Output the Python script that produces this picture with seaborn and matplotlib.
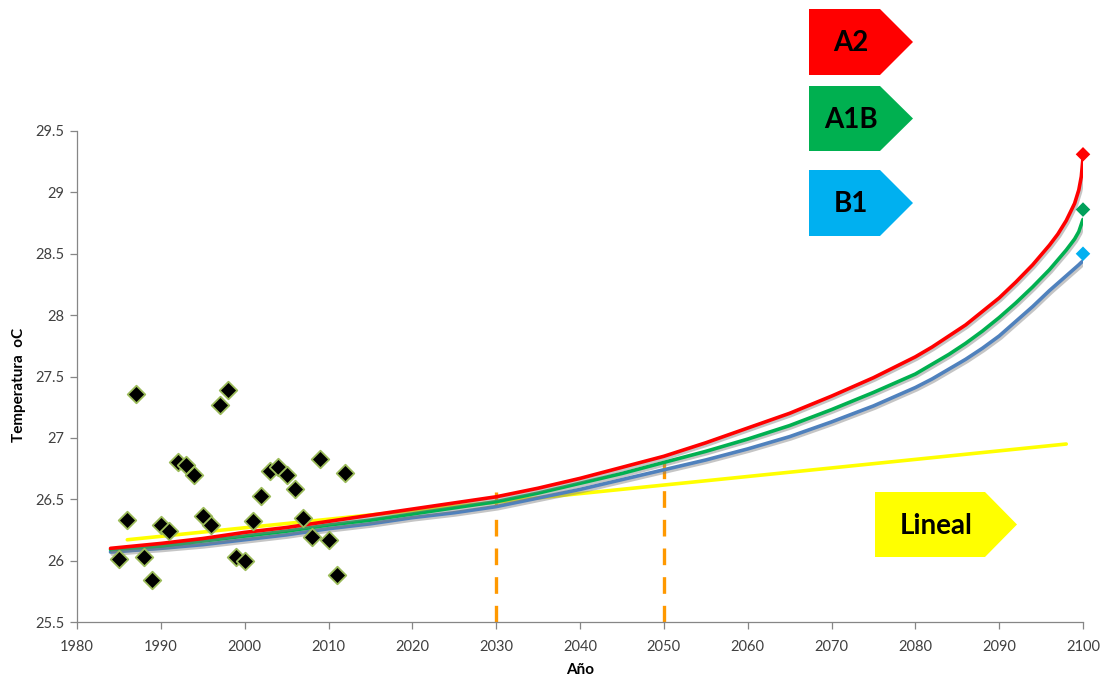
import numpy as np
import pandas as pd
import matplotlib
matplotlib.use("Agg")
import matplotlib.pyplot as plt
import matplotlib.patheffects as pe
from matplotlib.patches import Polygon
import seaborn as sns

# Observed annual mean temperature
obs_years = list(range(1985, 2013))
obs_temp = [26.01, 26.33, 27.36, 26.03, 25.84, 26.29, 26.24, 26.80, 26.78, 26.70,
            26.36, 26.29, 27.27, 27.39, 26.03, 26.00, 26.32, 26.53, 26.73, 26.76,
            26.70, 26.58, 26.35, 26.19, 26.83, 26.17, 25.88, 26.71]

# Scenario projections
proj_years = [1984, 1990, 1995, 2000, 2005, 2010, 2015, 2020, 2025, 2030,
              2035, 2040, 2045, 2050, 2055, 2060, 2065, 2070, 2075, 2080,
              2082, 2084, 2086, 2088, 2090, 2092, 2094, 2096, 2097, 2098,
              2099, 2099.5, 2099.8, 2100]
a2_temp = [26.10, 26.14, 26.18, 26.23, 26.27, 26.32, 26.37, 26.42, 26.47, 26.52,
           26.59, 26.67, 26.76, 26.85, 26.96, 27.08, 27.20, 27.34, 27.49, 27.66,
           27.74, 27.83, 27.92, 28.03, 28.14, 28.27, 28.41, 28.57, 28.66, 28.77,
           28.91, 29.02, 29.13, 29.28]
a1b_temp = [26.09, 26.12, 26.16, 26.20, 26.24, 26.29, 26.33, 26.38, 26.43, 26.48,
            26.55, 26.63, 26.71, 26.80, 26.89, 26.99, 27.10, 27.23, 27.37, 27.52,
            27.60, 27.68, 27.77, 27.87, 27.98, 28.10, 28.23, 28.37, 28.45, 28.53,
            28.62, 28.68, 28.74, 28.78]
b1_temp = [26.07, 26.10, 26.13, 26.17, 26.21, 26.26, 26.30, 26.35, 26.39, 26.44,
           26.51, 26.58, 26.66, 26.74, 26.82, 26.91, 27.01, 27.13, 27.26, 27.41,
           27.48, 27.56, 27.64, 27.73, 27.83, 27.95, 28.07, 28.20, 28.26, 28.32,
           28.38, 28.41, 28.43, 28.44]

# 2100 end values
end_year = [2100, 2100, 2100]
end_temp = [29.31, 28.86, 28.50]
end_scenario = ["A2", "A1B", "B1"]

# Linear trend
lin_years = [1986, 2098]
lin_temp = [26.17, 26.95]

# Reference years
ref_years = [2030, 2050]
ref_top = [26.56, 26.88]

x_ticks = list(range(1980, 2101, 10))
y_ticks = [25.5, 26, 26.5, 27, 27.5, 28, 28.5, 29, 29.5]

W, H = 1106, 679
sns.set_theme(style="white")
plt.rcParams["font.family"] = ["Lato", "DejaVu Sans"]

fig = plt.figure(figsize=(W / 100, H / 100), dpi=100)
ax = fig.add_axes([77 / W, 1 - 622 / H, (1083 - 77) / W, (622 - 131) / H])

proj = pd.DataFrame({
    "year": proj_years * 3,
    "temp": a2_temp + a1b_temp + b1_temp,
    "scenario": ["A2"] * len(proj_years) + ["A1B"] * len(proj_years) + ["B1"] * len(proj_years),
})
line_colors = {"A2": "#FF0000", "A1B": "#00B050", "B1": "#4F81BD"}
marker_colors = {"A2": "#FF0000", "A1B": "#00A05A", "B1": "#00B0F0"}

# Reference-year markers
for yr, top in zip(ref_years, ref_top):
    ax.plot([yr, yr], [25.5, top], color="#FF9900", lw=2.4,
            dashes=(5, 3.6), zorder=2, solid_capstyle="butt")

# Linear trend
sns.lineplot(x=lin_years, y=lin_temp, ax=ax, color="#FFFF00", lw=2.6, zorder=3)

# Scenario curves with soft shadow
for sc in ["B1", "A1B", "A2"]:
    sub = proj[proj["scenario"] == sc]
    sns.lineplot(data=sub, x="year", y="temp", ax=ax, color=line_colors[sc],
                 lw=2.6, zorder=4, sort=False, solid_joinstyle="round",
                 path_effects=[pe.SimpleLineShadow(offset=(1.2, -1.5), shadow_color="#7F7F7F", alpha=0.45),
                               pe.Normal()])

ends = pd.DataFrame({"year": end_year, "temp": end_temp, "scenario": end_scenario})
sns.scatterplot(data=ends, x="year", y="temp", hue="scenario", palette=marker_colors,
                marker="D", s=55, linewidth=0, ax=ax, legend=False, zorder=6, clip_on=False)

# Observations
obs = pd.DataFrame({"year": obs_years, "temp": obs_temp})
sns.scatterplot(data=obs, x="year", y="temp", ax=ax, marker="D", s=80, color="black",
                edgecolor="#9BBB59", linewidth=1.3, zorder=5)

ax.set_xlim(1980, 2100)
ax.set_ylim(25.5, 29.5)
ax.set_xticks(x_ticks)
ax.set_yticks(y_ticks)
ax.set_yticklabels([f"{v:g}" for v in y_ticks])
ax.tick_params(axis="both", labelsize=10.5, colors="#404040", length=5, width=0.9,
               direction="out", color="#868686", bottom=True, left=True, pad=4)
ax.tick_params(axis="x", pad=8)
for s in ["top", "right"]:
    ax.spines[s].set_visible(False)
for s in ["left", "bottom"]:
    ax.spines[s].set_color("#868686")
    ax.spines[s].set_linewidth(0.9)
ax.grid(False)

ax.set_xlabel("Año", fontsize=11, fontweight="bold", color="#000000")
ax.set_ylabel("Temperatura  oC", fontsize=11, fontweight="bold", color="#000000")
ax.xaxis.set_label_coords(0.5, -0.084)
ax.yaxis.set_label_coords(-0.051, 0.483)


def tag(x0, y0, x1, tip, y1, color, text):
    ym = (y0 + y1) / 2
    pts = [(x0, y0), (x1, y0), (tip, ym), (x1, y1), (x0, y1)]
    pts = [(px / W, 1 - py / H) for px, py in pts]
    fig.patches.append(Polygon(pts, closed=True, facecolor=color, edgecolor="none",
                               transform=fig.transFigure, zorder=10))
    fig.text(((x0 + x1) / 2 + 6) / W, 1 - (ym + 1) / H, text, ha="center", va="center",
             fontsize=20, fontweight="bold", color="black", zorder=11)


tag(809, 9, 880, 913, 75, "#FF0000", "A2")
tag(809, 86, 880, 913, 151, "#00B050", "A1B")
tag(809, 170, 880, 913, 236, "#00B0F0", "B1")
tag(875, 492, 985, 1017, 557, "#FFFF00", "Lineal")

fig.savefig("out.png", dpi=100)
